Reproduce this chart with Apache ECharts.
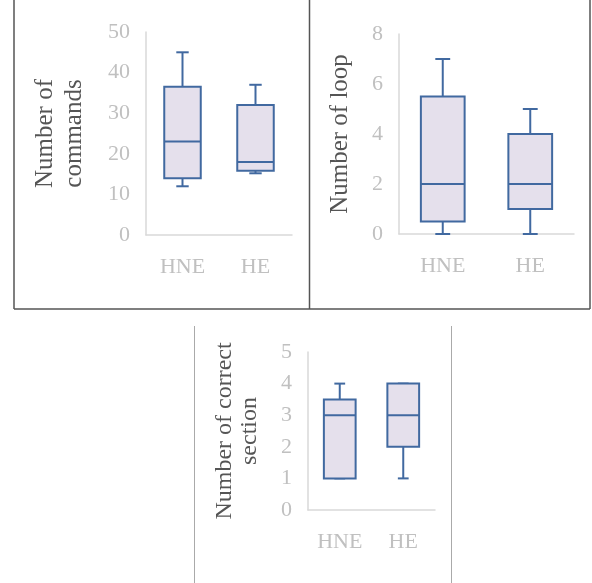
<!DOCTYPE html>
<html>
<head>
<meta charset="utf-8">
<script src="https://cdn.jsdelivr.net/npm/echarts@6/dist/echarts.min.js"></script>
<style>
html,body{margin:0;padding:0;background:#fff;}
#chart{width:592px;height:583px;}
</style>
</head>
<body>
<div id="chart"></div>
<script>
// ---- data ----
const categories = ['HNE', 'HE'];
// each row: [min, Q1, median, Q3, max]
const commandsStats = [[12, 14, 23, 36.5, 45], [15.2, 15.8, 18, 32, 37]];
const loopStats = [[0, 0.5, 2, 5.5, 7], [0, 1, 2, 4, 5]];
const correctStats = [[1, 1, 3, 3.5, 4], [1, 2, 3, 4, 4]];
const commandsTitle = 'Number of\ncommands';
const loopTitle = 'Number of loop';
const correctTitle = 'Number of correct\nsection';
const commandsAxis = {max: 50, interval: 10};
const loopAxis = {max: 8, interval: 2};
const correctAxis = {max: 5, interval: 1};

// ---- styles ----
const FONT = 'Liberation Serif';
const BOX_STROKE = '#4169a0';
const BOX_FILL = '#e5e0ec';
const TICK_COLOR = '#c0c0c0';
const TITLE_COLOR = '#555555';
const AXIS_COLOR = '#d9d9d9';

function renderBox(params, api) {
  const idx = api.value(0);
  const vmin = api.value(1), q1 = api.value(2), med = api.value(3), q3 = api.value(4), vmax = api.value(5);
  const band = api.size([1, 0])[0];
  const half = band * 0.25;
  const cap = band * 0.085;
  const pMin = api.coord([idx, vmin]);
  const pQ1 = api.coord([idx, q1]);
  const pMed = api.coord([idx, med]);
  const pQ3 = api.coord([idx, q3]);
  const pMax = api.coord([idx, vmax]);
  const x = pMed[0];
  const ls = {stroke: BOX_STROKE, lineWidth: 2, fill: null};
  const children = [
    {type: 'line', shape: {x1: x, y1: pQ3[1], x2: x, y2: pMax[1]}, style: ls},
    {type: 'line', shape: {x1: x - cap, y1: pMax[1], x2: x + cap, y2: pMax[1]}, style: ls},
    {type: 'line', shape: {x1: x, y1: pQ1[1], x2: x, y2: pMin[1]}, style: ls},
    {type: 'line', shape: {x1: x - cap, y1: pMin[1], x2: x + cap, y2: pMin[1]}, style: ls},
    {type: 'rect', shape: {x: x - half, y: pQ3[1], width: half * 2, height: pQ1[1] - pQ3[1]},
     style: {fill: BOX_FILL, stroke: BOX_STROKE, lineWidth: 2}},
    {type: 'line', shape: {x1: x - half, y1: pMed[1], x2: x + half, y2: pMed[1]}, style: ls}
  ];
  return {type: 'group', children: children};
}

function toData(stats) {
  return stats.map((s, i) => [i].concat(s));
}

function xAxisCfg(gi) {
  return {
    type: 'category', gridIndex: gi, data: categories,
    axisLine: {lineStyle: {color: AXIS_COLOR, width: 1.5}},
    axisTick: {show: false},
    axisLabel: {color: TICK_COLOR, fontFamily: FONT, fontSize: 22, margin: 21}
  };
}
function yAxisCfg(gi, ax, title, gap, fs, lh) {
  return {
    type: 'value', gridIndex: gi, min: 0, max: ax.max, interval: ax.interval,
    axisLine: {show: true, lineStyle: {color: AXIS_COLOR, width: 1.5}},
    axisTick: {show: false},
    splitLine: {show: false},
    axisLabel: {color: TICK_COLOR, fontFamily: FONT, fontSize: 22, margin: 16},
    name: title, nameLocation: 'middle', nameRotate: 90, nameGap: gap,
    nameTextStyle: {color: TITLE_COLOR, fontFamily: FONT, fontSize: fs, lineHeight: lh}
  };
}

const borderStyle = {stroke: '#555555', lineWidth: 1.5};
const borderStyle2 = {stroke: '#aaaaaa', lineWidth: 1};

const option = {
  animation: false,
  backgroundColor: '#ffffff',
  grid: [
    {left: 146, top: 32, width: 146, height: 203},
    {left: 399, top: 34, width: 175, height: 200},
    {left: 308, top: 352, width: 127, height: 158}
  ],
  xAxis: [xAxisCfg(0), xAxisCfg(1), xAxisCfg(2)],
  yAxis: [
    yAxisCfg(0, commandsAxis, commandsTitle, 57, 25, 29),
    yAxisCfg(1, loopAxis, loopTitle, 45, 25, 28),
    yAxisCfg(2, correctAxis, correctTitle, 46, 24, 25)
  ],
  series: [
    {type: 'custom', xAxisIndex: 0, yAxisIndex: 0, renderItem: renderBox, data: toData(commandsStats), z: 5},
    {type: 'custom', xAxisIndex: 1, yAxisIndex: 1, renderItem: renderBox, data: toData(loopStats), z: 5},
    {type: 'custom', xAxisIndex: 2, yAxisIndex: 2, renderItem: renderBox, data: toData(correctStats), z: 5}
  ],
  graphic: [
    {type: 'line', shape: {x1: 14, y1: 0, x2: 14, y2: 309}, style: borderStyle},
    {type: 'line', shape: {x1: 309.5, y1: 0, x2: 309.5, y2: 309}, style: borderStyle},
    {type: 'line', shape: {x1: 590, y1: 0, x2: 590, y2: 309}, style: borderStyle},
    {type: 'line', shape: {x1: 14, y1: 309, x2: 590, y2: 309}, style: borderStyle},
    {type: 'line', shape: {x1: 194.5, y1: 326, x2: 194.5, y2: 583}, style: borderStyle2},
    {type: 'line', shape: {x1: 451.5, y1: 326, x2: 451.5, y2: 583}, style: borderStyle2}
  ]
};

const chart = echarts.init(document.getElementById('chart'), null, {renderer: 'canvas'});
chart.setOption(option);
</script>
</body>
</html>
